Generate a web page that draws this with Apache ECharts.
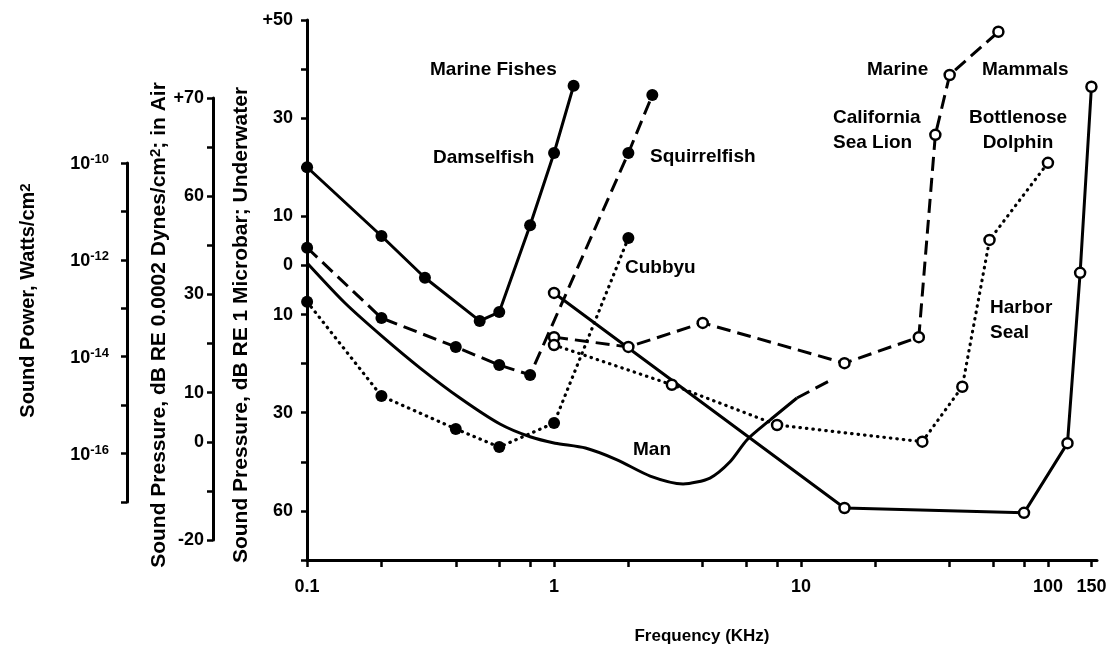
<!DOCTYPE html>
<html>
<head>
<meta charset="utf-8">
<script src="https://cdn.jsdelivr.net/npm/echarts@6/dist/echarts.min.js"></script>
<style>
html, body { margin: 0; padding: 0; background: #fff; }
#chart { width: 1115px; height: 657px; }
</style>
</head>
<body>
<div id="chart"></div>
<script>
// frequency (kHz) / threshold (dB, main underwater scale)
var damselFreq = [0.1, 0.2, 0.3, 0.5, 0.6, 0.8, 1.0, 1.2];
var damselDb = [20, 6, -2.5, -11.3, -9.5, 8.2, 22.9, 36.6];

var squirrelFreq = [0.1, 0.2, 0.4, 0.6, 0.8, 2.0, 2.5];
var squirrelDb = [3.6, -10.7, -16.6, -20.3, -22.3, 22.9, 34.7];

var cubbyuFreq = [0.1, 0.2, 0.4, 0.6, 1.0, 2.0];
var cubbyuDb = [-7.4, -26.6, -33.3, -37.0, -32.1, 5.6];

var manFreq = [0.1, 0.142, 0.203, 0.287, 0.416, 0.604, 0.8, 1.01, 1.34, 1.8, 2.45, 3.33, 4.28, 5.16, 6.05, 7.49, 9.63];
var manDb = [0.5, -7.6, -14.6, -20.9, -27.0, -32.3, -34.9, -36.2, -37.2, -39.6, -42.9, -44.5, -43.3, -40.0, -35.5, -31.5, -27.0];
var manGapFreq = [9.63, 13.5];
var manGapDb = [-27.0, -23.1];

var seaLionFreq = [1.0, 2.0, 4.0, 15, 30, 35, 40, 63];
var seaLionDb = [-14.6, -16.6, -11.7, -19.9, -14.6, 26.6, 38.8, 47.6];

var sealFreq = [1.0, 3.0, 8.0, 31, 45, 58, 100];
var sealDb = [-16.2, -24.3, -32.5, -35.9, -24.7, 5.2, 20.9];

var dolphinFreq = [1.0, 15, 80, 120, 135, 150];
var dolphinDb = [-5.6, -49.4, -50.4, -36.2, -1.5, 36.4];

// axis ticks and their printed labels
var freqTicks = [0.1, 0.2, 0.4, 0.6, 0.8, 1, 2, 4, 6, 8, 10, 20, 40, 60, 80, 100, 150];
var freqLabelValues = [0.1, 1, 10, 100, 150];
var freqLabels = ['0.1', '1', '10', '100', '150'];

var waterTickValues = [50, 30, 10, 0, -10, -30, -50];
var waterTickLabels = ['+50', '30', '10', '0', '10', '30', '60'];

var airTickValues = [70, 50, 30, 10, 0, -20];
var airTickLabels = ['+70', '60', '30', '10', '0', '-20'];

var powerExps = [-10, -12, -14, -16];

var FONT = '"Liberation Sans", Arial, sans-serif';

var myChart = echarts.init(document.getElementById('chart'));

function pts(fs, ds) {
    var out = [];
    for (var i = 0; i < fs.length; i++) {
        out.push([fs[i], ds[i]]);
    }
    return out;
}

function lookup(values, labels) {
    return function (v) {
        var i = values.indexOf(Math.round(v * 1000) / 1000);
        return i < 0 ? '' : labels[i];
    };
}

// one curve of the figure
function curve(name, fs, ds, dash, marker) {
    var s = {
        type: 'line',
        name: name,
        data: pts(fs, ds),
        symbol: 'circle',
        showSymbol: marker !== 'none',
        symbolSize: marker === 'open' ? 10 : 12,
        lineStyle: { color: '#000', width: 3, type: 'solid', cap: 'butt' },
        itemStyle: marker === 'open'
            ? { color: '#fff', borderColor: '#000', borderWidth: 2.5 }
            : { color: '#000' },
        emphasis: { disabled: true },
        smooth: marker === 'none' ? 0.25 : false,
        animation: false
    };
    if (dash === 'dashed') {
        s.lineStyle.type = [14, 7];
    } else if (dash === 'dotted') {
        s.lineStyle.type = [0.5, 6];
        s.lineStyle.cap = 'round';
        s.lineStyle.width = 3.2;
    }
    return s;
}

function axisBase() {
    return {
        type: 'value',
        position: 'left',
        axisLine: { show: true, onZero: false, lineStyle: { color: '#000', width: 3 } },
        axisTick: { show: true, length: 6, lineStyle: { color: '#000', width: 2.5 } },
        splitLine: { show: false },
        nameLocation: 'middle',
        nameRotate: 90,
        nameTextStyle: { color: '#000', fontSize: 21, fontWeight: 'bold', fontFamily: FONT }
    };
}

var waterAxis = axisBase();
waterAxis.gridIndex = 0;
waterAxis.min = -60;
waterAxis.max = 50;
waterAxis.interval = 10;
waterAxis.axisLabel = {
    customValues: waterTickValues,
    formatter: lookup(waterTickValues, waterTickLabels),
    margin: 14, color: '#000', fontSize: 18, fontWeight: 'bold', fontFamily: FONT
};
waterAxis.name = 'Sound Pressure, dB RE 1 Microbar; Underwater';
waterAxis.nameGap = 48;
waterAxis.nameTextStyle.padding = [0, 70, 0, 0];

var airAxis = axisBase();
airAxis.gridIndex = 1;
airAxis.min = -20;
airAxis.max = 70;
airAxis.interval = 10;
airAxis.axisLabel = {
    customValues: airTickValues,
    formatter: lookup(airTickValues, airTickLabels),
    margin: 9, color: '#000', fontSize: 18, fontWeight: 'bold', fontFamily: FONT
};
airAxis.name = 'Sound Pressure, dB RE 0.0002 Dynes/cm{sup|2}; in Air';
airAxis.nameGap = 34;
airAxis.nameTextStyle.padding = [0, 12, 0, 0];
airAxis.nameTextStyle.rich = {
    sup: { fontSize: 15, fontWeight: 'bold', fontFamily: FONT, verticalAlign: 'top', lineHeight: 14 }
};

var powerAxis = axisBase();
powerAxis.gridIndex = 2;
powerAxis.min = -17;
powerAxis.max = -10;
powerAxis.interval = 1;
powerAxis.axisLabel = {
    customValues: powerExps,
    formatter: function (v) { return '{b|10}{s|' + v + '}'; },
    margin: 18,
    rich: {
        b: { fontSize: 18, fontWeight: 'bold', fontFamily: FONT, color: '#000', lineHeight: 20, padding: [6, 0, 0, 0], verticalAlign: 'bottom' },
        s: { fontSize: 13, fontWeight: 'bold', fontFamily: FONT, color: '#000', lineHeight: 14, verticalAlign: 'top' }
    }
};
powerAxis.name = 'Sound Power, Watts/cm{sup|2}';
powerAxis.nameGap = 89;
powerAxis.nameTextStyle.fontSize = 20;
powerAxis.nameTextStyle.padding = [0, 0, 0, 64];
powerAxis.nameTextStyle.rich = {
    sup: { fontSize: 15, fontWeight: 'bold', fontFamily: FONT, verticalAlign: 'top', lineHeight: 14 }
};

function hiddenX(i) {
    return { gridIndex: i, type: 'value', show: false, min: 0, max: 1 };
}

function note(text, x, y, align) {
    return {
        type: 'text',
        x: x,
        y: y,
        silent: true,
        style: {
            text: text,
            fill: '#000',
            font: 'bold 19px ' + FONT,
            align: align || 'left',
            verticalAlign: 'middle',
            lineHeight: 25
        }
    };
}

var option = {
    backgroundColor: '#fff',
    animation: false,
    textStyle: { fontFamily: FONT },
    grid: [
        { left: 307, right: 18, top: 20, bottom: 97 },
        { left: 213, width: 10, top: 98, height: 442 },
        { left: 127, width: 10, top: 163, height: 339 }
    ],
    xAxis: [
        {
            gridIndex: 0,
            type: 'log',
            logBase: 10,
            min: 0.0999,
            max: 158,
            axisLine: { show: true, onZero: false, lineStyle: { color: '#000', width: 3 } },
            axisTick: { show: true, customValues: freqTicks, length: 7, lineStyle: { color: '#000', width: 2.5 } },
            axisLabel: {
                customValues: freqLabelValues,
                formatter: lookup(freqLabelValues, freqLabels),
                margin: 18, color: '#000', fontSize: 18, fontWeight: 'bold', fontFamily: FONT
            },
            splitLine: { show: false },
            minorTick: { show: false },
            name: 'Frequency (KHz)',
            nameLocation: 'middle',
            nameGap: 68,
            nameTextStyle: { color: '#000', fontSize: 17, fontWeight: 'bold', fontFamily: FONT }
        },
        hiddenX(1),
        hiddenX(2)
    ],
    yAxis: [waterAxis, airAxis, powerAxis],
    series: [
        curve('Man', manFreq, manDb, 'solid', 'none'),
        curve('Man (extrapolated)', manGapFreq, manGapDb, 'dashed', 'none'),
        curve('Bottlenose Dolphin', dolphinFreq, dolphinDb, 'solid', 'open'),
        curve('Damselfish', damselFreq, damselDb, 'solid', 'filled'),
        curve('Squirrelfish', squirrelFreq, squirrelDb, 'dashed', 'filled'),
        curve('Cubbyu', cubbyuFreq, cubbyuDb, 'dotted', 'filled'),
        curve('California Sea Lion', seaLionFreq, seaLionDb, 'dashed', 'open'),
        curve('Harbor Seal', sealFreq, sealDb, 'dotted', 'open')
    ],
    graphic: [
        note('Marine Fishes', 430, 70),
        note('Damselfish', 433, 158),
        note('Squirrelfish', 650, 157),
        note('Cubbyu', 625, 268),
        note('Man', 633, 450),
        note('Marine', 867, 70),
        note('Mammals', 982, 70),
        note('California\nSea Lion', 833, 130),
        note('Bottlenose\nDolphin', 1018, 130, 'center'),
        note('Harbor\nSeal', 990, 320)
    ]
};

myChart.setOption(option);
</script>
</body>
</html>
